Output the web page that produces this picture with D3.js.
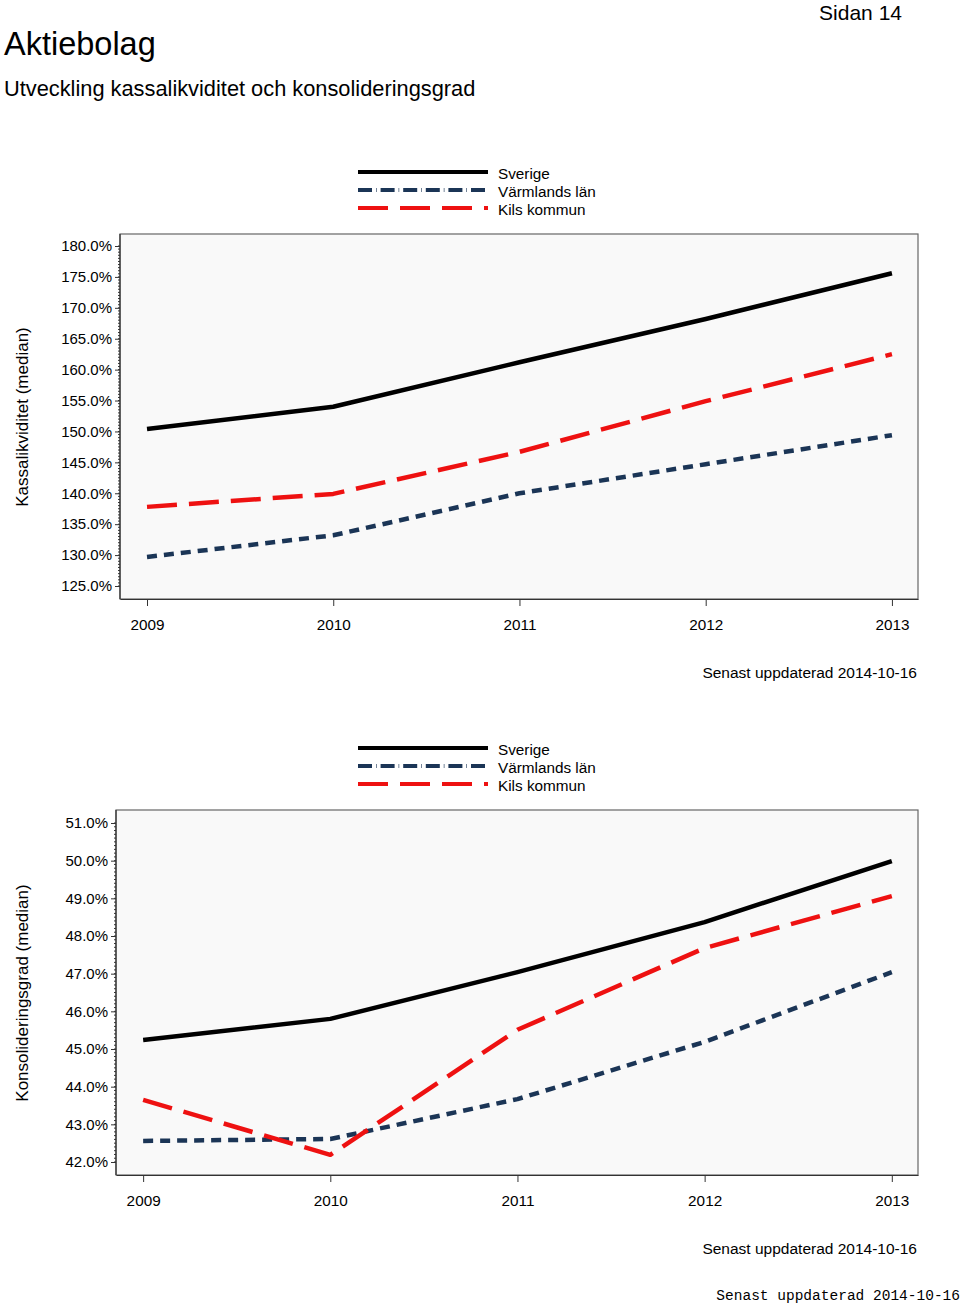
<!DOCTYPE html>
<html><head><meta charset="utf-8">
<script src="https://cdn.jsdelivr.net/npm/d3@7/dist/d3.min.js"></script>
<style>body{margin:0;background:#fff;}svg{display:block;}</style>
</head><body>
<script>
const years = [2009, 2010, 2011, 2012, 2013];
const seriesNames = ["Sverige", "Värmlands län", "Kils kommun"];
// Kassalikviditet (median), %
const kassaSverige = [150.4, 154.0, 161.2, 168.2, 175.6];
const kassaVarmland = [129.7, 133.2, 140.0, 144.7, 149.4];
const kassaKil = [137.8, 139.9, 146.7, 154.9, 162.5];
const kassaTicks = [125, 130, 135, 140, 145, 150, 155, 160, 165, 170, 175, 180];
// Konsolideringsgrad (median), %
const konsSverige = [45.24, 45.80, 47.04, 48.37, 49.99];
const konsVarmland = [42.56, 42.61, 43.67, 45.19, 47.04];
const konsKil = [43.65, 42.19, 45.51, 47.68, 49.06];
const konsTicks = [42, 43, 44, 45, 46, 47, 48, 49, 50, 51];

const W = 960, H = 1306;
const font = "'Liberation Sans', Arial, sans-serif";
const svg = d3.select("body").append("svg").attr("width", W).attr("height", H)
  .style("font-family", font);

svg.append("text").attr("x", 902).attr("y", 20).attr("text-anchor", "end")
  .attr("font-size", 21).attr("fill", "#000").text("Sidan 14");
svg.append("text").attr("x", 4).attr("y", 55).attr("font-size", 32.5).attr("fill", "#000").text("Aktiebolag");
svg.append("text").attr("x", 4).attr("y", 96).attr("font-size", 21.8).attr("fill", "#000")
  .text("Utveckling kassalikviditet och konsolideringsgrad");

const styles = [
  {color: "#000000", dash: null, legDash: null},
  {color: "#1b3556", dash: "10,7", legDash: "14,4,0.6,4"},
  {color: "#ee1111", dash: "30,12", legDash: "30,12"}
];

function drawChart(cfg) {
  const g = svg.append("g");
  // legend
  seriesNames.forEach((n, i) => {
    const ly = cfg.legendY + i * 18;
    g.append("line").attr("x1", 358).attr("x2", 488).attr("y1", ly).attr("y2", ly)
      .attr("stroke", styles[i].color).attr("stroke-width", 4)
      .attr("stroke-dasharray", styles[i].legDash);
    g.append("text").attr("x", 498).attr("y", ly + 7).attr("font-size", 15.3).attr("fill", "#000").text(n);
  });
  const x = d3.scaleLinear().domain([2009 - 0.145, 2013 + 0.14]).range([cfg.left, 918]);
  const y = d3.scaleLinear().domain(cfg.domain).range(cfg.yRange);
  g.append("rect").attr("x", cfg.left).attr("y", cfg.top).attr("width", 918 - cfg.left)
    .attr("height", cfg.bottom - cfg.top).attr("fill", "#f9f9f9").attr("stroke", "#666").attr("stroke-width", 1.2);
  // minor ticks
  const minor = d3.range(cfg.domain[0], cfg.domain[1] + cfg.minorStep / 2, cfg.minorStep);
  g.selectAll(".minor").data(minor).join("line")
    .attr("x1", cfg.left - 2).attr("x2", cfg.left).attr("y1", d => y(d)).attr("y2", d => y(d))
    .attr("stroke", "#333").attr("stroke-width", 1);
  // y axis
  const ya = g.append("g").attr("transform", `translate(${cfg.left},0)`)
    .call(d3.axisLeft(y).tickValues(cfg.ticks).tickSize(5).tickSizeOuter(0).tickPadding(3)
      .tickFormat(d => d.toFixed(1) + "%"));
  ya.select(".domain").remove();
  ya.selectAll("text").attr("font-size", 15).attr("font-family", font).attr("fill", "#000");
  ya.selectAll(".tick line").attr("stroke", "#333");
  g.append("line").attr("x1", cfg.left).attr("x2", cfg.left).attr("y1", cfg.top).attr("y2", cfg.bottom)
    .attr("stroke", "#333").attr("stroke-width", 1.2);
  // x axis
  const xa = g.append("g").attr("transform", `translate(0,${cfg.bottom})`)
    .call(d3.axisBottom(x).tickValues(years).tickSize(7).tickSizeOuter(0).tickPadding(13).tickFormat(d3.format("d")));
  xa.select(".domain").attr("stroke", "#333").attr("stroke-width", 1.2);
  xa.selectAll("text").attr("font-size", 15.3).attr("font-family", font).attr("fill", "#000");
  xa.selectAll(".tick line").attr("stroke", "#333");
  // y title
  g.append("text").attr("transform", `translate(28,${cfg.titleY}) rotate(-90)`)
    .attr("text-anchor", "middle").attr("font-size", 17).attr("fill", "#000").text(cfg.title);
  // lines
  const line = d3.line().x((d, i) => x(years[i])).y(d => y(d));
  [cfg.data[0], cfg.data[1], cfg.data[2]].forEach((vals, i) => {
    g.append("path").datum(vals).attr("d", line).attr("fill", "none")
      .attr("stroke", styles[i].color).attr("stroke-width", 4.5)
      .attr("stroke-linejoin", "round")
      .attr("stroke-dasharray", styles[i].dash);
  });
  g.append("text").attr("x", 917).attr("y", cfg.updY).attr("text-anchor", "end")
    .attr("font-size", 15.5).attr("fill", "#000").text("Senast uppdaterad 2014-10-16");
}

drawChart({legendY: 172, left: 120, top: 234, bottom: 599, domain: [125, 180], yRange: [586, 246],
  ticks: kassaTicks, minorStep: 0.5, title: "Kassalikviditet (median)", titleY: 417,
  data: [kassaSverige, kassaVarmland, kassaKil], updY: 678});
drawChart({legendY: 748, left: 116, top: 810, bottom: 1175, domain: [42, 51], yRange: [1162, 823],
  ticks: konsTicks, minorStep: 0.1, title: "Konsolideringsgrad (median)", titleY: 993,
  data: [konsSverige, konsVarmland, konsKil], updY: 1254});

svg.append("text").attr("x", 960).attr("y", 1300).attr("text-anchor", "end")
  .attr("font-family", "'Liberation Mono', 'Courier New', monospace").attr("font-size", 14.5)
  .attr("fill", "#000").text("Senast uppdaterad 2014-10-16");
</script>
</body></html>
